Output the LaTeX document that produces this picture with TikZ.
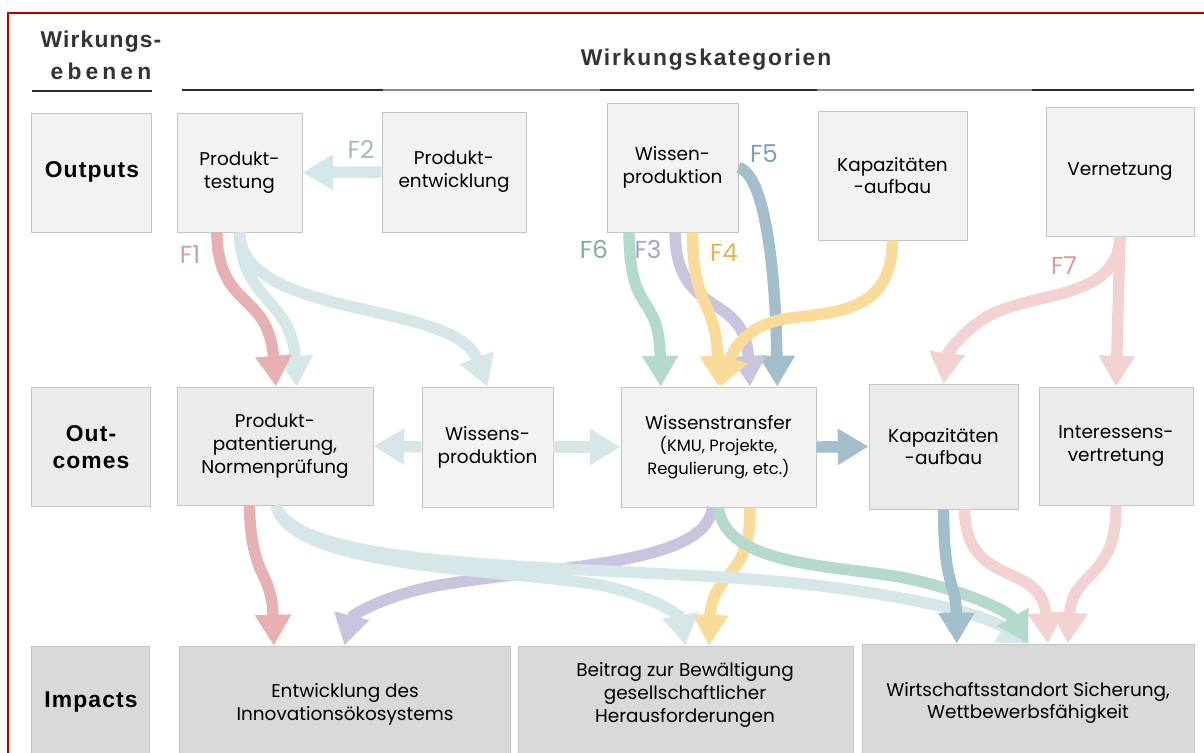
\documentclass[tikz,border=0pt]{standalone}
\usepackage{fontspec}
\setmainfont{Poppins}
\newfontfamily\hdr[LetterSpace=5]{Liberation Sans}
\newfontfamily\hdrk[LetterSpace=8]{Liberation Sans}
\newfontfamily\hdrw[LetterSpace=18]{Liberation Sans}
\usetikzlibrary{arrows.meta,calc}
\definecolor{cFrame}{HTML}{C00000}
\definecolor{cBorder}{HTML}{C4C4C4}
\definecolor{cOut}{HTML}{F2F2F2}
\definecolor{cMid}{HTML}{EBEBEB}
\definecolor{cImp}{HTML}{D9D9D9}
\definecolor{cHead}{HTML}{333333}
\definecolor{cRule}{HTML}{2B2B2B}
\definecolor{cRuleG}{HTML}{8C8C8C}
\definecolor{cRed}{HTML}{E6B1B0}
\definecolor{cLB}{HTML}{D6E7EA}
\definecolor{cGreen}{HTML}{B4DACC}
\definecolor{cPurple}{HTML}{C9C5DE}
\definecolor{cYellow}{HTML}{FADB99}
\definecolor{cSteel}{HTML}{A3BFCC}
\definecolor{cPink}{HTML}{F3D3D2}
\definecolor{lFa}{HTML}{D69C9B}
\definecolor{lFb}{HTML}{A3BAC2}
\definecolor{lFc}{HTML}{A8A2C8}
\definecolor{lFd}{HTML}{E2B35A}
\definecolor{lFe}{HTML}{7F9FB1}
\definecolor{lFf}{HTML}{79B09C}
\definecolor{lFg}{HTML}{D89C9B}
\newcommand\nfont{\fontsize{10.5}{13}\selectfont}
\newcommand\hfont{\hdr\bfseries\fontsize{13}{15.3}\selectfont}
\newcommand\mybox[7]{\node[box, fill=#6, minimum width={(#4-#2)*0.02cm}, minimum height={(#5-#3)*0.02cm}] (#1) at ({(#2+#4)/2},{(#3+#5)/2}) {#7};}
\tikzset{
  box/.style={draw=cBorder, line width=0.5pt, align=center, inner sep=0pt, font=\nfont, text=black},
  txt/.style={align=center, inner sep=0pt, font=\nfont},
  flab/.style={inner sep=0pt, font=\fontsize{14}{14}\selectfont},
  flow/.style={draw=#1, line width=6.5pt, line cap=butt, -{Triangle[width=19.5pt,length=17.5pt]}}
}
\begin{document}
\begin{tikzpicture}[x=0.02cm, y=-0.02cm]
\useasboundingbox (0,0) rectangle (1204,752);
\clip (0,0) rectangle (1204,752);
\fill[white] (0,0) rectangle (1204,752);
\draw[cFrame, line width=1.2pt] (8,13) rectangle (1220,770);

% headers
\node[anchor=base, font=\hfont, text=cHead] (h1) at (101,47) {Wirkungs-};
\node[anchor=base, font=\hdrw\bfseries\fontsize{13}{15.3}\selectfont, text=cHead] (h2) at (101,79) {ebenen};
\node[anchor=base, font=\hdrk\bfseries\fontsize{13}{15.3}\selectfont, text=cHead] (h3) at (706,65) {Wirkungskategorien};
\draw[cRule, line width=0.8pt] (32,91) -- (152,91);
\draw[cRule, line width=0.8pt] (182,90) -- (383,90);
\draw[cRuleG, line width=0.8pt] (383,90) -- (600,90);
\draw[cRule, line width=0.8pt] (600,90) -- (817,90);
\draw[cRuleG, line width=0.8pt] (817,90) -- (1032,90);
\draw[cRule, line width=0.8pt] (1032,90) -- (1194,90);

% level boxes
\mybox{lo}{31}{113}{151}{232}{cOut}{}
\node[font=\hfont] (loT) at (92,172) {Outputs};
\mybox{lm}{31}{387}{150}{506}{cMid}{}
\node[font=\hfont, align=center] (lmT) at (91,447) {Out-\\comes};
\mybox{li}{31}{646}{149}{770}{cImp}{}
\node[font=\hfont] (liT) at (91,702) {Impacts};

% outputs
\mybox{pt}{177}{113}{302}{232}{cOut}{Produkt-\\testung}
\mybox{pe}{382}{112}{526}{232}{cOut}{Produkt-\\entwicklung}
\mybox{wo}{607}{103}{738}{232}{cOut}{Wissen-\\produktion}
\mybox{ka}{818}{111}{967}{240}{cOut}{Kapazitäten\\-aufbau}
\mybox{ve}{1046}{107}{1194}{236}{cOut}{Vernetzung}

% outcomes
\mybox{pp}{177}{387}{373}{505}{cMid}{Produkt-\\patentierung,\\Normenprüfung}
\mybox{wp}{422}{387}{553}{507}{cOut}{Wissens-\\produktion}
\mybox{wt}{621}{387}{816}{507}{cOut}{Wissenstransfer\\{\fontsize{9.3}{11.3}\selectfont (KMU, Projekte,}\\{\fontsize{9.3}{11.3}\selectfont Regulierung, etc.)}}
\mybox{ko}{869}{384}{1018}{509}{cMid}{Kapazitäten\\-aufbau}
\mybox{is}{1039}{387}{1193}{505}{cMid}{Interessens-\\vertretung}

% impacts
\mybox{en}{179}{646}{510}{770}{cImp}{}
\mybox{be}{518}{646}{853}{770}{cImp}{}
\mybox{wi}{862}{644}{1194}{770}{cImp}{}
\node[txt] (enT) at (345,704) {Entwicklung des\\Innovationsökosystems};
\node[txt] (beT) at (685,695) {Beitrag zur Bewältigung\\gesellschaftlicher\\Herausforderungen};
\node[txt] (wiT) at (1028,703) {Wirtschaftsstandort Sicherung,\\Wettbewerbsfähigkeit};

% ---- outputs -> outcomes
\draw[flow=cLB] ($(pt.south west)!.5!(pt.south east)$) .. controls (242,320) and (455,300) .. (wp.north);
\draw[flow=cLB] ($(pt.south west)!.5!(pt.south east)$) .. controls (241,300) and (292,300) .. ($(pp.north west)!.61!(pp.north east)$);
\draw[flow=cRed] ($(pt.south west)!.32!(pt.south east)$) .. controls (218,310) and (268,290) .. ($(pp.north west)!.505!(pp.north east)$);
\draw[flow=cLB] (pe.west) -- (pt.east);

\draw[flow=cSteel] (wo.east) .. controls (768,175) and (776,290) .. ($(wt.north west)!.80!(wt.north east)$);
\draw[flow=cPurple] ($(wo.south west)!.52!(wo.south east)$) .. controls (676,320) and (745,290) .. ($(wt.north west)!.66!(wt.north east)$);
\draw[flow=cYellow] ($(wo.south west)!.65!(wo.south east)$) .. controls (693,310) and (716,300) .. ($(wt.north west)!.5!(wt.north east)$);
\draw[flow=cYellow] (ka.south) .. controls (892,310) and (840,312) .. (790,318) .. controls (752,323) and (735,345) .. ($(wt.north west)!.51!(wt.north east)$);
\draw[flow=cGreen] ($(wo.south west)!.17!(wo.south east)$) .. controls (630,320) and (659,290) .. ($(wt.north west)!.205!(wt.north east)$);

\draw[flow=cPink] (ve.south) -- (is.north);
\draw[flow=cPink] (ve.south) .. controls (1117,300) and (1040,290) .. (990,315) .. controls (960,332) and (947,355) .. (ko.north);

% ---- within outcomes
\draw[flow=cLB] (wp.west) -- (pp.east);
\draw[flow=cLB] (wp.east) -- (wt.west);
\draw[flow=cSteel] (wt.east) -- (ko.west);

% ---- outcomes -> impacts
\draw[flow=cPurple] ($(wt.south west)!.47!(wt.south east)$) .. controls (705,565) and (560,565) .. (440,585) .. controls (385,595) and (352,615) .. (en.north);
\draw[flow=cYellow] ($(wt.south west)!.66!(wt.south east)$) .. controls (752,580) and (712,570) .. ($(be.north west)!.57!(be.north east)$);
\draw[flow=cLB] ($(pp.south west)!.505!(pp.south east)$) .. controls (290,570) and (520,570) .. (600,585) .. controls (650,595) and (680,615) .. (be.north);
\draw[flow=cLB] ($(pp.south west)!.505!(pp.south east)$) .. controls (295,565) and (520,565) .. (720,577) .. controls (880,587) and (980,612) .. ($(wi.north west)!.506!(wi.north east)$);
\draw[flow=cRed] ($(pp.south west)!.37!(pp.south east)$) .. controls (251,580) and (272,570) .. ($(en.north west)!.287!(en.north east)$);
\draw[flow=cGreen] ($(wt.south west)!.5!(wt.south east)$) .. controls (725,565) and (830,565) .. (900,577) .. controls (965,590) and (1010,612) .. ($(wi.north west)!.5!(wi.north east)$);
\draw[flow=cSteel] (ko.south) .. controls (944,590) and (956,580) .. ($(wi.north west)!.286!(wi.north east)$);
\draw[flow=cPink] ($(ko.south west)!.64!(ko.south east)$) .. controls (966,590) and (1042,560) .. ($(wi.north west)!.56!(wi.north east)$);
\draw[flow=cPink] (is.south) .. controls (1117,580) and (1072,570) .. ($(wi.north west)!.62!(wi.north east)$);

% labels
\node[flab, text=lFa] (f1) at (190,255) {F1};
\node[flab, text=lFb] (f2) at (361,149) {F2};
\node[flab, text=lFc] (f3) at (648,249) {F3};
\node[flab, text=lFd] (f4) at (724,253) {F4};
\node[flab, text=lFe] (f5) at (764,154) {F5};
\node[flab, text=lFf] (f6) at (594,249) {F6};
\node[flab, text=lFg] (f7) at (1064,266) {F7};
\end{tikzpicture}
\end{document}
